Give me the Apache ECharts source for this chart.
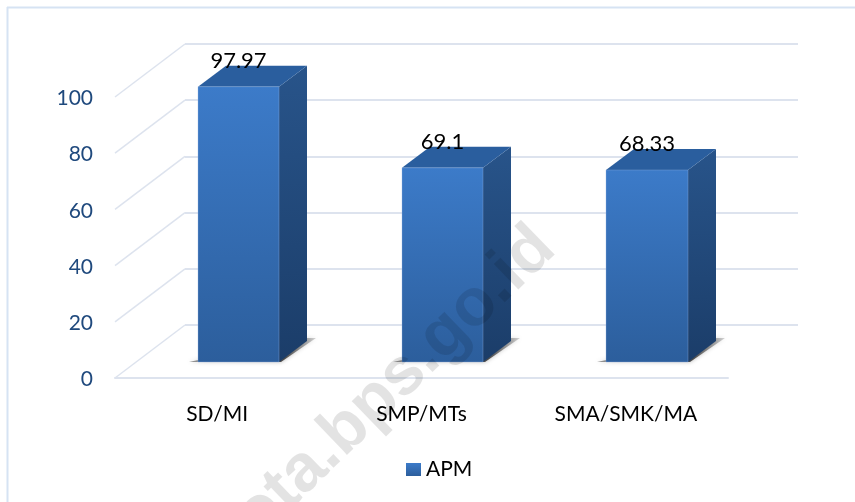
<!DOCTYPE html>
<html>
<head>
<meta charset="utf-8">
<style>html,body{margin:0;padding:0;background:#fff}#c{width:855px;height:502px}</style>
<script src="https://cdn.jsdelivr.net/npm/echarts@6/dist/echarts.min.js"></script>
</head>
<body>
<div id="c"></div>
<script>
const categories = ['SD/MI', 'SMP/MTs', 'SMA/SMK/MA'];
const apmValues = [97.97, 69.1, 68.33];
const seriesName = 'APM';
const yTicks = [0, 20, 40, 60, 80, 100];
const watermarkText = 'kota.bps.go.id';

const FONT = 'Lato, "Open Sans", sans-serif';
const GRID_LINE = '#dde3ee';
const WALL = { dx: 70, dy: -53 };
const BAR_OFFSET = { dx: 21, dy: -16 };
const BAR_DEPTH = { dx: 28, dy: -21 };
const vGrad = (a, b) => new echarts.graphic.LinearGradient(0, 0, 0, 1, [
  { offset: 0, color: a }, { offset: 1, color: b }
]);
const shadowGrad = () => new echarts.graphic.LinearGradient(0, 0, 1, 0, [
  { offset: 0, color: 'rgba(70,70,70,0.55)' },
  { offset: 0.75, color: 'rgba(40,40,40,0.8)' },
  { offset: 1, color: 'rgba(90,90,90,0.25)' }
]);

const chart = echarts.init(document.getElementById('c'), null, { renderer: 'canvas' });

function renderBar(params, api) {
  const value = api.value(1);
  const top = api.coord([api.value(0), value]);
  const base = api.coord([api.value(0), 0]);
  const w = api.size([1, 0])[0] * 0.4;
  const left = top[0] - w / 2 + BAR_OFFSET.dx;
  const x0 = Math.ceil(left);
  const x1 = Math.round(left + w);
  const yT = top[1] + BAR_OFFSET.dy;
  const yB = base[1] + BAR_OFFSET.dy;
  const dx = BAR_DEPTH.dx, dy = BAR_DEPTH.dy;
  return {
    type: 'group',
    children: [
      { type: 'polygon', shape: { points: [[x0 - 9, yB], [x1 + 2, yB], [x1 + 37, yB + dy - 3], [x1 + 20, yB + dy - 3]] },
        style: { fill: shadowGrad(), shadowBlur: 4, shadowColor: 'rgba(0,0,0,0.35)' } },
      { type: 'polygon', shape: { points: [[x1, yT], [x1 + dx, yT + dy], [x1 + dx, yB + dy], [x1, yB]] },
        style: { fill: vGrad('#28548a', '#1b3d69') } },
      { type: 'polygon', shape: { points: [[x0, yT], [x1, yT], [x1 + dx, yT + dy], [x0 + dx, yT + dy]] },
        style: { fill: '#2a5e9e' } },
      { type: 'rect', shape: { x: x0, y: yT, width: x1 - x0, height: yB - yT },
        style: { fill: vGrad('#3c7bc9', '#2c5e9c'), stroke: 'rgba(150,180,225,0.35)', lineWidth: 1 } },
      { type: 'text', style: { text: String(value), x: (x0 + x1) / 2, y: yT - 26, align: 'center', verticalAlign: 'middle',
        fill: '#000', font: '22px ' + FONT } }
    ]
  };
}

function renderDiagonal(params, api) {
  const cs = params.coordSys;
  const y = api.coord([0, api.value(0)])[1];
  return {
    type: 'line',
    shape: { x1: cs.x, y1: y, x2: cs.x + WALL.dx, y2: y + WALL.dy },
    style: { stroke: GRID_LINE, lineWidth: 1.5 }
  };
}

chart.setOption({
  animation: false,
  backgroundColor: '#ffffff',
  legend: {
    data: [seriesName],
    left: 401, top: 454,
    itemWidth: 15, itemHeight: 13, icon: 'rect', itemGap: 5,
    textStyle: { fontFamily: FONT, fontSize: 21, color: '#000' }
  },
  grid: [
    { left: 115, top: 97, width: 613, height: 281 },
    { left: 185, top: 44, width: 613, height: 281 }
  ],
  xAxis: [
    { type: 'category', gridIndex: 0, data: categories,
      axisTick: { show: false },
      axisLine: { show: true, lineStyle: { color: GRID_LINE, width: 2 } },
      axisLabel: { color: '#000', fontFamily: FONT, fontSize: 21, margin: 26 } },
    { type: 'category', gridIndex: 1, data: categories, show: false }
  ],
  yAxis: [
    { type: 'value', gridIndex: 0, min: 0, max: 100, interval: 20,
      axisLine: { show: false }, axisTick: { show: false }, splitLine: { show: false },
      axisLabel: { color: '#1f497d', fontFamily: FONT, fontSize: 21, margin: 22, verticalAlign: 'top', lineHeight: 3 } },
    { type: 'value', gridIndex: 1, min: 0, max: 100, interval: 20,
      axisLine: { show: false }, axisTick: { show: false }, axisLabel: { show: false },
      splitLine: { show: true, lineStyle: { color: GRID_LINE, width: 2 } } }
  ],
  series: [
    { type: 'custom', name: 'wall', xAxisIndex: 0, yAxisIndex: 0, silent: true, z: 1,
      renderItem: renderDiagonal, data: yTicks.map(v => [v]), encode: { y: 0 }, clip: false },
    { type: 'custom', name: seriesName, xAxisIndex: 0, yAxisIndex: 0, z: 5,
      itemStyle: { color: vGrad('#3c7bc9', '#2c5e9c') },
      renderItem: renderBar, clip: false,
      data: categories.map((c, i) => [i, apmValues[i]]), encode: { x: 0, y: 1 } }
  ],
  graphic: [
    { type: 'line', silent: true, z: 0, shape: { x1: 7, y1: 7.5, x2: 855, y2: 7.5 }, style: { stroke: '#d6e3f3', lineWidth: 2 } },
    { type: 'line', silent: true, z: 0, shape: { x1: 7.5, y1: 7, x2: 7.5, y2: 502 }, style: { stroke: '#d6e3f3', lineWidth: 2 } },
    { type: 'text', silent: true, z: 100, x: 545, y: 238, rotation: 44 * Math.PI / 180,
      style: { text: watermarkText, x: 0, y: 0, align: 'right', verticalAlign: 'middle',
        font: 'bold 67px "Liberation Sans", sans-serif', fill: 'rgba(0,0,0,0.11)' } }
  ]
});
</script>
</body>
</html>
